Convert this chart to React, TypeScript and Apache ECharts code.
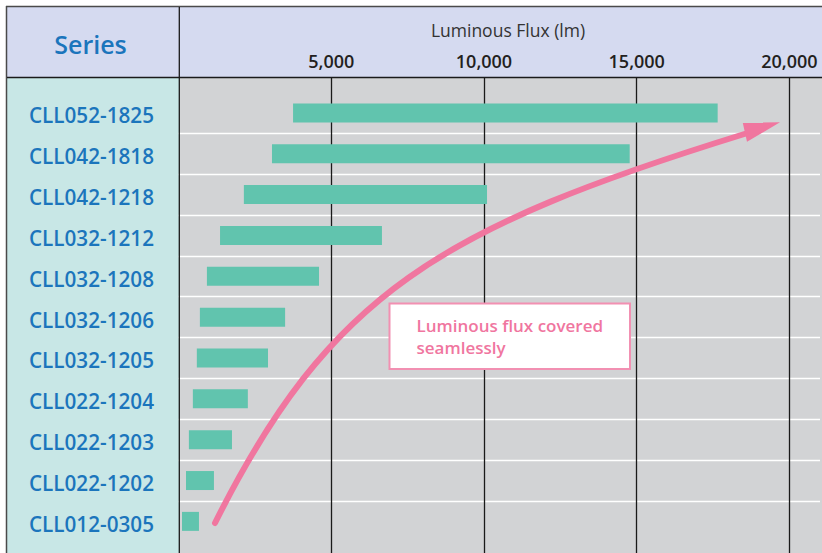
import React, { useEffect, useRef } from "react";
import * as echarts from "echarts";

const categories = [
  "CLL052-1825",
  "CLL042-1818",
  "CLL042-1218",
  "CLL032-1212",
  "CLL032-1208",
  "CLL032-1206",
  "CLL032-1205",
  "CLL022-1204",
  "CLL022-1203",
  "CLL022-1202",
  "CLL012-0305",
];
const fluxMin = [3750, 3060, 2140, 1360, 930, 700, 600, 470, 340, 245, 115];
const fluxMax = [17650, 14770, 10100, 6660, 4600, 3490, 2930, 2270, 1750, 1160, 670];
const xTickValues = [5000, 10000, 15000, 20000];
const xTickLabels = ["5,000", "10,000", "15,000", "20,000"];
const noteLines = ["Luminous flux covered", "seamlessly"];

const FONT = "'Open Sans', 'Noto Sans', sans-serif";
const BLUE = "#1B75BC";
const PINK = "#F0769F";

export default function App() {
  const ref = useRef<HTMLDivElement>(null);
  useEffect(() => {
    if (!ref.current) return;
    const chart = echarts.init(ref.current, undefined, { renderer: "svg" });
    const gridLeft = 178.5;
    const gridRight = 2;
    const option: any = {
      animation: false,
      backgroundColor: "#ffffff",
      textStyle: { fontFamily: FONT },
      grid: [
        { left: gridLeft, right: gridRight, top: 78, bottom: 0, show: false },
        { left: gridLeft, right: gridRight, top: 92.5, bottom: 11.2, show: false },
      ],
      xAxis: [
        {
          type: "value",
          gridIndex: 0,
          position: "top",
          min: 0,
          max: 21000,
          interval: 5000,
          axisLine: { show: false },
          axisTick: { show: false },
          axisLabel: {
            show: true,
            margin: 8,
            fontFamily: FONT,
            fontSize: 18,
            fontWeight: 600,
            color: "#231F20",
            showMinLabel: false,
            showMaxLabel: false,
            formatter: (v: number) => {
              const i = xTickValues.indexOf(v);
              return i >= 0 ? xTickLabels[i] : "";
            },
          },
          splitLine: {
            show: true,
            showMinLine: false,
            showMaxLine: false,
            lineStyle: { color: "#1a1a1a", width: 1.3 },
          },
        },
        {
          type: "value",
          gridIndex: 1,
          min: 0,
          max: 21000,
          interval: 5000,
          show: false,
          splitLine: { show: false },
        },
      ],
      yAxis: [
        {
          type: "value",
          gridIndex: 0,
          min: 0,
          max: 1,
          show: false,
          splitLine: { show: false },
        },
        {
          type: "category",
          gridIndex: 1,
          data: categories,
          inverse: true,
          axisLine: { show: false },
          axisTick: { show: false },
          axisLabel: {
            margin: 24.5,
            fontFamily: FONT,
            fontSize: 20.7,
            fontWeight: 600,
            color: BLUE,
            formatter: (v: string) => `{a|${v}}`,
            rich: {
              a: {
                fontFamily: FONT,
                fontSize: 20.7,
                fontWeight: 600,
                color: BLUE,
                padding: [5, 0, 0, 0],
              },
            },
          },
          splitLine: {
            show: true,
            showMinLine: false,
            showMaxLine: false,
            lineStyle: { color: "#ffffff", width: 1.3 },
          },
        },
      ],
      series: [
        {
          type: "bar",
          xAxisIndex: 1,
          yAxisIndex: 1,
          stack: "range",
          data: fluxMin,
          barWidth: 19,
          itemStyle: { color: "transparent" },
          silent: true,
        },
        {
          type: "bar",
          xAxisIndex: 1,
          yAxisIndex: 1,
          stack: "range",
          data: fluxMax.map((v, i) => v - fluxMin[i]),
          barWidth: 19,
          itemStyle: { color: "#61C4AE" },
          z: 5,
        },
      ],
      graphic: [
        { type: "rect", z: -10, shape: { x: 7, y: 7, width: 815, height: 71 }, style: { fill: "#D5DAF0" } },
        { type: "rect", z: -10, shape: { x: 7, y: 78, width: 172, height: 475 }, style: { fill: "#C8E7E6" } },
        { type: "rect", z: -10, shape: { x: 179, y: 78, width: 643, height: 475 }, style: { fill: "#D2D3D5" } },
        { type: "line", z: 10, shape: { x1: 6, y1: 6.5, x2: 822, y2: 6.5 }, style: { stroke: "#4a4a4a", lineWidth: 1.5 } },
        { type: "line", z: 10, shape: { x1: 6.5, y1: 6, x2: 6.5, y2: 553 }, style: { stroke: "#4a4a4a", lineWidth: 1.5 } },
        { type: "line", z: 10, shape: { x1: 7, y1: 77.5, x2: 822, y2: 77.5 }, style: { stroke: "#1a1a1a", lineWidth: 1.3 } },
        { type: "line", z: 10, shape: { x1: 179.3, y1: 7, x2: 179.3, y2: 553 }, style: { stroke: "#1a1a1a", lineWidth: 1.3 } },
        {
          type: "text",
          z: 10,
          x: 90.5,
          y: 44,
          style: {
            text: "Series",
            fill: BLUE,
            font: `600 25px ${FONT}`,
            align: "center",
            verticalAlign: "middle",
          },
        },
        {
          type: "text",
          z: 10,
          x: 508,
          y: 30,
          style: {
            text: "Luminous Flux (lm)",
            fill: "#333333",
            font: `400 17.5px ${FONT}`,
            align: "center",
            verticalAlign: "middle",
          },
        },
        {
          type: "bezierCurve",
          z: 50,
          shape: { x1: 215, y1: 523, cpx1: 330, cpy1: 293, cpx2: 440, cpy2: 228, x2: 746, y2: 133.5 },
          style: { stroke: PINK, lineWidth: 6, lineCap: "round", fill: null },
        },
        {
          type: "polygon",
          z: 51,
          shape: { points: [[780, 122.3], [742.7, 122.5], [747, 141.7]] },
          style: { fill: PINK },
        },
        {
          type: "rect",
          z: 60,
          shape: { x: 389.5, y: 303.5, width: 240.5, height: 65.5 },
          style: { fill: "#ffffff", stroke: "#F290B2", lineWidth: 2 },
        },
        {
          type: "text",
          z: 61,
          x: 416.5,
          y: 325.5,
          style: {
            text: noteLines[0],
            fill: PINK,
            font: `600 17px ${FONT}`,
            align: "left",
            verticalAlign: "middle",
          },
        },
        {
          type: "text",
          z: 61,
          x: 416.5,
          y: 347,
          style: {
            text: noteLines[1],
            fill: PINK,
            font: `600 17px ${FONT}`,
            align: "left",
            verticalAlign: "middle",
          },
        },
      ],
    };
    chart.setOption(option);
    return () => chart.dispose();
  }, []);
  return (
    <div
      ref={ref}
      style={{ position: "absolute", left: 0, top: 0, width: 822, height: 553 }}
    />
  );
}
